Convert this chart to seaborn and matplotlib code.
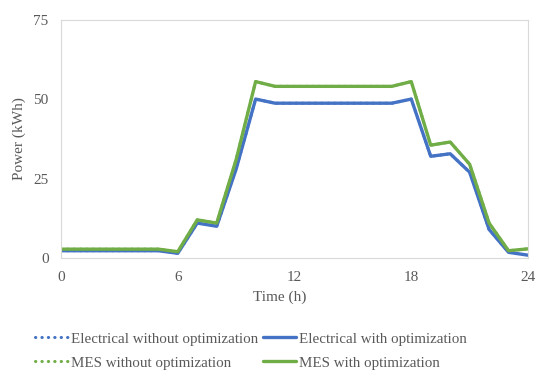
import numpy as np
import pandas as pd
import matplotlib
matplotlib.use("Agg")
import matplotlib.pyplot as plt
import seaborn as sns

# hourly power (kWh)
hours = list(range(25))
elec_without = [2.3, 2.3, 2.3, 2.3, 2.3, 2.3, 1.5, 11, 10, 28, 50, 48.7, 48.7, 48.7,
                48.7, 48.7, 48.7, 48.7, 50, 32, 32.8, 27, 9, 1.8, 0.9]
elec_with = [2.3, 2.3, 2.3, 2.3, 2.3, 2.3, 1.5, 11, 10, 28, 50, 48.7, 48.7, 48.7,
             48.7, 48.7, 48.7, 48.7, 50, 32, 32.8, 27, 9, 1.8, 0.9]
mes_without = [2.8, 2.8, 2.8, 2.8, 2.8, 2.8, 2, 12, 11, 31, 55.5, 54, 54, 54,
               54, 54, 54, 54, 55.5, 35.5, 36.5, 29.5, 11, 2.3, 2.9]
mes_with = [2.8, 2.8, 2.8, 2.8, 2.8, 2.8, 2, 12, 11, 31, 55.5, 54, 54, 54,
            54, 54, 54, 54, 55.5, 35.5, 36.5, 29.5, 11, 2.3, 2.9]

x_ticks = [0, 6, 12, 18, 24]
y_ticks = [0, 25, 50, 75]

blue = "#4472C4"
green = "#70AD47"
grey = "#595959"

sns.set_style("white")
plt.rcParams['font.family'] = ['Liberation Serif', 'DejaVu Serif']

fig = plt.figure(figsize=(5.5, 3.84), dpi=100)
ax = fig.add_axes([0.111, 0.328, 0.849, 0.621])

dots = (0, (0.1, 2.0))
sns.lineplot(x=hours, y=elec_without, ax=ax, color=blue, lw=2.2, linestyle=dots,
             dash_capstyle="round", label="Electrical without optimization")
sns.lineplot(x=hours, y=mes_without, ax=ax, color=green, lw=2.2, linestyle=dots,
             dash_capstyle="round", label="MES without optimization")
sns.lineplot(x=hours, y=elec_with, ax=ax, color=blue, lw=2.4,
             solid_joinstyle="round", label="Electrical with optimization")
sns.lineplot(x=hours, y=mes_with, ax=ax, color=green, lw=2.4,
             solid_joinstyle="round", label="MES with optimization")

ax.set_xlim(0, 24)
ax.set_ylim(0, 75)
ax.set_xticks(x_ticks)
ax.set_yticks(y_ticks)
ax.tick_params(axis="both", length=0, labelsize=11, colors=grey)
ax.tick_params(axis="x", pad=9)
ax.tick_params(axis="y", pad=9)
ax.set_xlabel("Time (h)", fontsize=11, color=grey)
ax.set_ylabel("Power (kWh)", fontsize=11, color=grey)
ax.xaxis.set_label_coords(0.469, -0.135)
ax.yaxis.set_label_coords(-0.075, 0.5)
for s in ax.spines.values():
    s.set_color("#D9D9D9")
    s.set_linewidth(0.8)

handles, labels = ax.get_legend_handles_labels()
ax.get_legend().remove()
fig.legend(handles, labels, ncol=2, loc="upper left", bbox_to_anchor=(0.039, 0.17),
           frameon=False, fontsize=10.8, handlelength=2.2, handletextpad=0.2,
           columnspacing=0.3, labelspacing=0.7, labelcolor=grey)

fig.savefig("out.png", dpi=100)
